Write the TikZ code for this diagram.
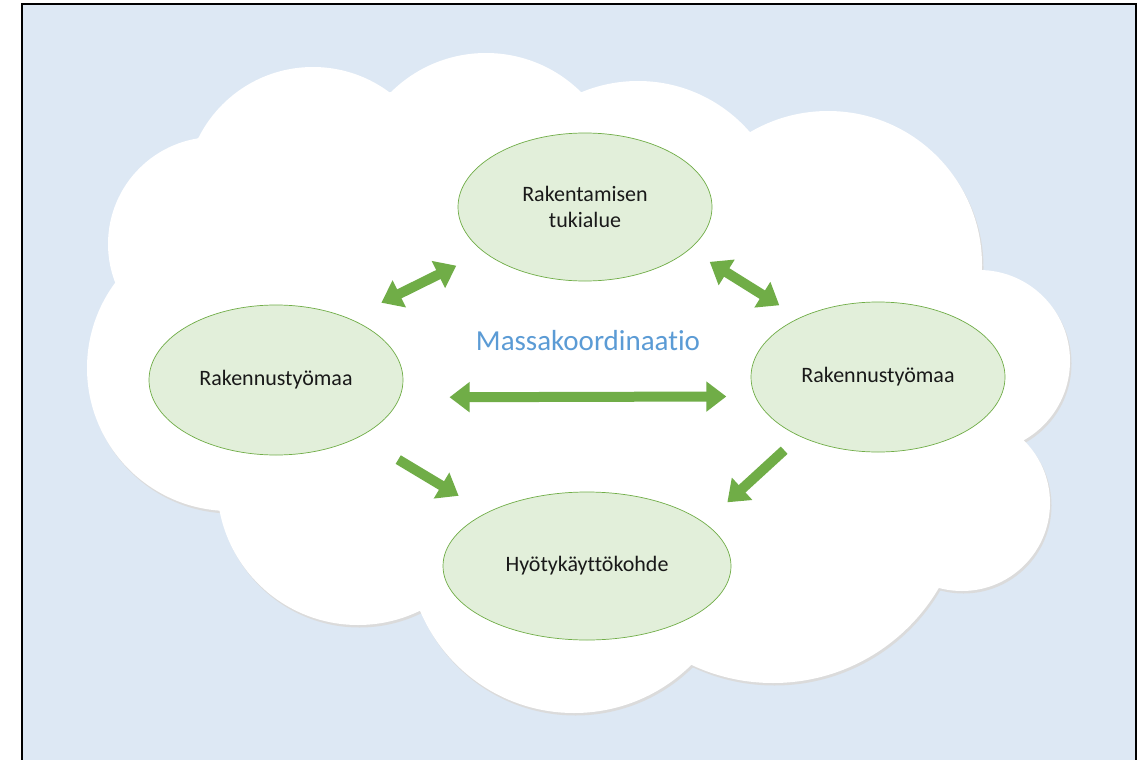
\documentclass[tikz,border=0pt]{standalone}
\usepackage{fontspec}
\setmainfont{Carlito}[Ligatures=NoCommon]
\usetikzlibrary{shapes.geometric}
\usetikzlibrary{arrows.meta}

\definecolor{bgblue}{HTML}{DDE8F4}
\definecolor{leafgreen}{HTML}{70AD47}
\definecolor{palegreen}{HTML}{E2EFDA}
\definecolor{labelblue}{HTML}{5B9BD5}

\newcommand{\cloudfill}[1]{%
  \fill[#1] (198,138) -- (391,92) -- (581,92) -- (750,132) -- (982,270) -- (1024,440)
    -- (939,588) -- (691,665) -- (420,610) -- (219,510) -- (115,283) -- cycle;
  \foreach \cx/\cy/\cr in {313/195/128, 486/188/135, 638/229/148, 828/265/154,
      979/361/91, 962/503/88, 773/491/192, 574/546/167, 358/484/141, 230/368/143, 215/244/107}
    \fill[#1] (\cx,\cy) circle [radius=\cr*1pt];
}

\begin{document}
\begin{tikzpicture} [
          x=1pt, y=-1pt,
          site/.style = {ellipse, draw=leafgreen, fill=palegreen, line width=0.7pt,
                         minimum width=254pt, minimum height=150pt, inner sep=0pt, outer sep=0pt,
                         align=center, text=black!90, font=\fontsize{22}{26}\selectfont},
          twoway/.style = {draw=leafgreen, line width=10pt, {Triangle[width=29pt,length=20pt]}-{Triangle[width=29pt,length=20pt]}},
          oneway/.style = {draw=leafgreen, line width=10pt, -{Triangle[width=29pt,length=20pt]}}
          ]
          \useasboundingbox (0,0) rectangle (1140,760);
          \fill[bgblue] (22,4) rectangle (1136,760);
          \draw[line width=2pt] (22,760) -- (22,4) -- (1136,4) -- (1136,760);

          \begin{scope}[shift={(1.5,2.5)}]
            \cloudfill{black!14}
          \end{scope}
          \cloudfill{white}

          \node[site, minimum height=148pt] (tp) at (585,207) {Rakentamisen\\tukialue};
          \node[site] (lw) at (276,380) {Rakennustyömaa};
          \node[site] (rw) at (878,377) {Rakennustyömaa};
          \node[site, minimum width=288pt, minimum height=148pt] (bt) at (587,566) {Hyötykäyttökohde};
          \node[text=labelblue, font=\fontsize{29}{35}\selectfont] (title) at (588,341) {Massakoordinaatio};

          \draw[twoway, shorten <=36pt, shorten >=31pt] (lw.40) -- (tp.204);
          \draw[twoway, shorten <=24pt, shorten >=24pt] (tp.338) -- (rw.143);
          \draw[twoway, shorten <=50pt, shorten >=29pt] (lw.352) -- (rw.189);
          \draw[oneway, shorten <=45pt, shorten >=33pt] (lw.326) -- (bt.152);
          \draw[oneway, shorten <=21pt, shorten >=31pt] (rw.217) -- (bt.20);
        \end{tikzpicture}
\end{document}
